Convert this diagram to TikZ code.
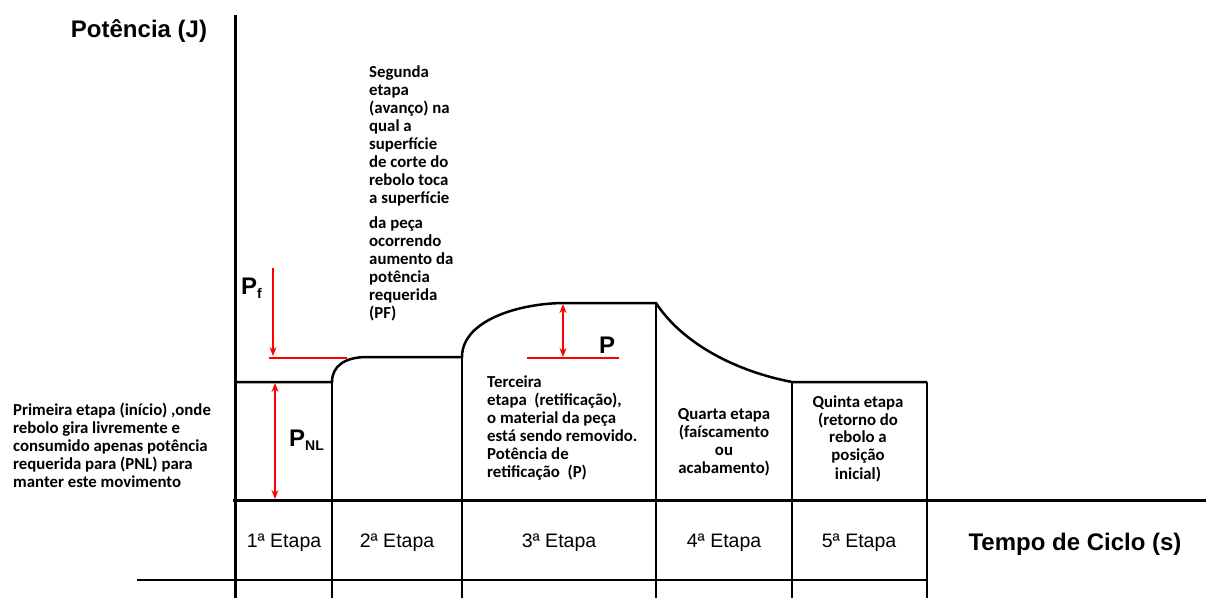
\documentclass[tikz,border=0pt]{standalone}
\usepackage{fontspec}
\setmainfont{Liberation Sans}
\newfontfamily\notefont{Carlito}
\usetikzlibrary{arrows.meta}
\begin{document}
\begin{tikzpicture}[x=1pt,y=-1pt,
  axis/.style={line width=3pt},
  curve/.style={line width=2.5pt},
  grid/.style={line width=1.4pt},
  redline/.style={draw=red, line width=2pt},
  redarrow/.style={draw=red, line width=2pt, -{Stealth[length=9pt,width=7pt]}},
  redboth/.style={draw=red, line width=2pt, {Stealth[length=9pt,width=7pt]}-{Stealth[length=9pt,width=7pt]}},
  note/.style={inner sep=0pt, font=\notefont\bfseries\fontsize{16.8}{18}\selectfont},
  title/.style={inner sep=0pt, font=\bfseries\fontsize{24}{26}\selectfont},
  stage/.style={inner sep=0pt, font=\fontsize{19.5}{22}\selectfont},
  sym/.style={inner sep=0pt, font=\bfseries\fontsize{24}{26}\selectfont}]
\useasboundingbox (0,0) rectangle (1206,598);

% axes
\coordinate (ytop) at (235,15);
\coordinate (ybot) at (235,598);
\coordinate (xl) at (233,500);
\coordinate (xr) at (1206,500);
\draw[axis] (ytop) -- (ybot);
\draw[axis] (xl) -- (xr);

% stage table below the time axis
\coordinate (rowl) at (137,580);
\coordinate (rowr) at (927,580);
\draw[grid] (rowl) -- (rowr);
\foreach \x in {332,462,656,792,927}
  \draw[grid] (\x,500) -- (\x,598);

% power curve over the cycle
\draw[curve] (235,382) -- (332,382)
  .. controls (332,366) and (345,357) .. (367,357) -- (462,357)
  .. controls (462,320) and (520,303) .. (565,303) -- (656,303)
  .. controls (680,340) and (730,370) .. (792,382) -- (927,382);
\draw[grid] (332,382) -- (332,500);
\draw[grid] (462,357) -- (462,500);
\draw[grid] (656,303) -- (656,500);
\draw[grid] (792,382) -- (792,500);
\draw[grid] (927,382) -- (927,500);

% red dimension marks
\coordinate (pfTop) at (273,268);
\coordinate (pfBot) at (273,356);
\coordinate (pfL) at (269,358);
\coordinate (pfR) at (347,358);
\draw[redarrow] (pfTop) -- (pfBot);
\draw[redline] (pfL) -- (pfR);

\coordinate (nlTop) at (275,383);
\coordinate (nlBot) at (275,499);
\draw[redboth] (nlTop) -- (nlBot);

\coordinate (pTop) at (563,304);
\coordinate (pBot) at (563,357);
\coordinate (pL) at (527,358);
\coordinate (pR) at (619,358);
\draw[redboth] (pTop) -- (pBot);
\draw[redline] (pL) -- (pR);

% symbols
\node[sym, anchor=base west] (symPf) at (241,294) {P{\fontsize{14}{14}\selectfont\raisebox{-4pt}{f}}};
\node[sym, anchor=base west] (symPnl) at (289,446) {P{\fontsize{14}{14}\selectfont\raisebox{-4pt}{NL}}};
\node[sym, anchor=base west] (symP) at (599,353) {P};

% axis titles
\node[title] (ytitle) at (139,31) {Potência (J)};
\node[title] (xtitle) at (1075,544) {Tempo de Ciclo (s)};

% stage labels
\node[stage] (s1) at (284,543) {1ª Etapa};
\node[stage] (s2) at (397,543) {2ª Etapa};
\node[stage] (s3) at (559,543) {3ª Etapa};
\node[stage] (s4) at (724,543) {4ª Etapa};
\node[stage] (s5) at (859,543) {5ª Etapa};

% stage descriptions
\node[note, anchor=north west, align=left] (n1) at (13,403)
  {Primeira etapa (início) ,onde\\rebolo gira livremente e\\consumido apenas potência\\requerida para (PNL) para\\manter este movimento};
\node[note, anchor=north west, align=left] (n2) at (369,66)
  {Segunda\\etapa\\(avanço) na\\qual a\\superfície\\de corte do\\rebolo toca\\a superfície\\[7pt]da peça\\ocorrendo\\aumento da\\potência\\requerida\\(PF)};
\node[note, anchor=north west, align=left] (n3) at (487,376)
  {Terceira\\etapa\ \ (retificação),\\o material da peça\\está sendo removido.\\Potência de\\retificação\ \ (P)};
\node[note, anchor=north, align=center] (n4) at (724,408)
  {Quarta etapa\\(faíscamento\\ou\\acabamento)};
\node[note, anchor=north, align=center] (n5) at (858,395)
  {Quinta etapa\\(retorno do\\rebolo a\\posição\\inicial)};
\end{tikzpicture}
\end{document}
